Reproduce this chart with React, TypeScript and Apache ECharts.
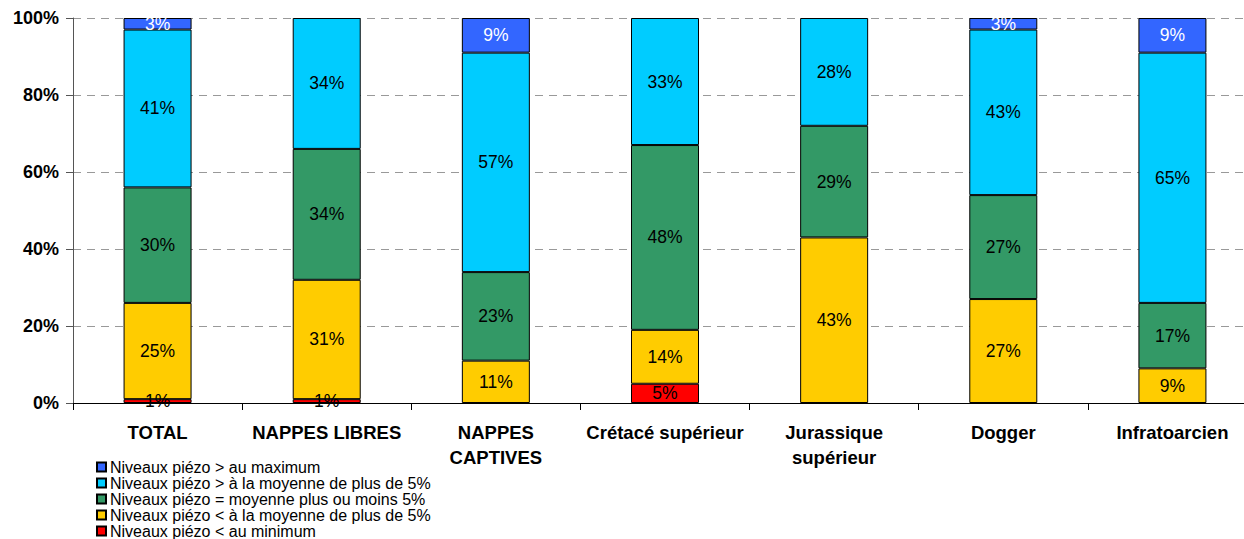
import React, { useEffect, useRef } from "react";
import * as echarts from "echarts";

const categories = [
  "TOTAL",
  "NAPPES LIBRES",
  "NAPPES\nCAPTIVES",
  "Crétacé supérieur",
  "Jurassique\nsupérieur",
  "Dogger",
  "Infratoarcien",
];

const seriesNames = [
  "Niveaux piézo < au minimum",
  "Niveaux piézo < à la moyenne de plus de 5%",
  "Niveaux piézo = moyenne plus ou moins 5%",
  "Niveaux piézo > à la moyenne de plus de 5%",
  "Niveaux piézo > au maximum",
];

const belowMin = [1, 1, null, 5, null, null, null];
const belowAvg = [25, 31, 11, 14, 43, 27, 9];
const aroundAvg = [30, 34, 23, 48, 29, 27, 17];
const aboveAvg = [41, 34, 57, 33, 28, 43, 65];
const aboveMax = [3, null, 9, null, null, 3, 9];

const yTicks = [0, 20, 40, 60, 80, 100];

const colors = ["#FF0000", "#FFCC00", "#339966", "#00CCFF", "#3366FF"];
const labelColors = ["#000", "#000", "#000", "#000", "#fff"];

export default function App() {
  const ref = useRef<HTMLDivElement>(null);
  useEffect(() => {
    const chart = echarts.init(ref.current!, undefined, { renderer: "svg" });
    const data = [belowMin, belowAvg, aroundAvg, aboveAvg, aboveMax];
    chart.setOption({
      animation: false,
      textStyle: { fontFamily: "Liberation Sans, Arial, sans-serif" },
      grid: { left: 73, top: 18, width: 1184, height: 385, containLabel: false },
      legend: {
        orient: "vertical",
        left: 96,
        top: 459,
        itemWidth: 9,
        itemHeight: 9,
        itemGap: 0,
        data: [...seriesNames].reverse(),
        textStyle: { fontSize: 16, color: "#000", lineHeight: 15, padding: [0, 0, 0, -1] },
        icon: "rect",
        padding: 0,
      },
      xAxis: {
        type: "category",
        data: categories,
        axisLine: { lineStyle: { color: "#000", width: 1 } },
        axisTick: { show: true, alignWithLabel: false, length: 7, lineStyle: { color: "#000" } },
        axisLabel: {
          interval: 0,
          fontSize: 18.5,
          fontWeight: "bold",
          color: "#000",
          margin: 17,
          lineHeight: 25,
        },
      },
      yAxis: {
        type: "value",
        min: 0,
        max: 100,
        interval: 20,
        axisLine: { show: true, lineStyle: { color: "#555", width: 1 } },
        axisTick: { show: true, length: 7, lineStyle: { color: "#555" } },
        axisLabel: {
          fontSize: 18,
          fontWeight: "bold",
          color: "#000",
          margin: 14,
          formatter: (v: number) => (yTicks.includes(v) ? v + "%" : ""),
        },
        splitLine: { show: true, lineStyle: { color: "#999", type: [8, 6], width: 1 } },
      },
      series: seriesNames.map((name, i) => ({
        name,
        type: "bar",
        stack: "total",
        barWidth: 68,
        data: data[i],
        itemStyle: { color: colors[i], borderColor: "#000", borderWidth: 1 },
        label: {
          show: true,
          position: "inside",
          fontSize: 17.5,
          color: labelColors[i],
          formatter: (p: any) => (p.value == null ? "" : p.value + "%"),
        },
      })),
    });
    return () => chart.dispose();
  }, []);
  return (
    <div
      ref={ref}
      style={{ position: "fixed", left: 0, top: 0, width: 1262, height: 570, background: "#fff" }}
    />
  );
}
